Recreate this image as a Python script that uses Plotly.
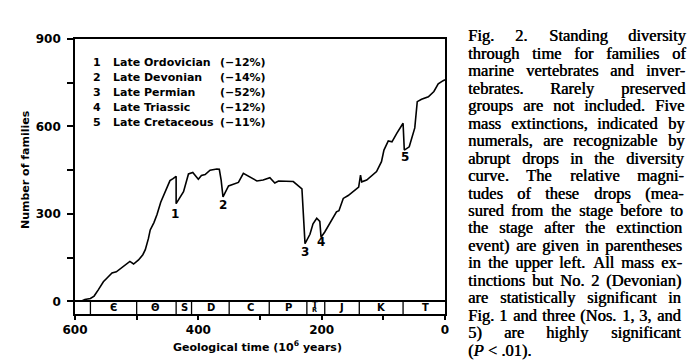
import plotly.graph_objects as go

# ---- data ----
age = [590, 584, 575, 569, 562, 554, 548, 540, 533, 526, 518, 511, 505, 497, 490, 486,
       481, 478, 472, 467, 461, 455, 450, 446, 441, 436, 436, 430, 424, 416, 409, 400,
       395, 389, 381, 370, 366, 363, 360, 351, 341, 335, 327, 316, 305, 295, 284, 276,
       270, 246, 232, 227, 219, 214, 208, 203, 201, 195, 181, 176, 172, 165, 157, 140,
       137, 135, 127, 111, 103, 99, 92, 86, 78, 68, 66, 58, 49, 45, 38, 27, 18, 11, 3, 0]
families = [0, 6, 10, 18, 40, 67, 80, 97, 101, 112, 125, 137, 128, 142, 160, 177,
            215, 245, 270, 298, 340, 368, 392, 414, 421, 429, 335, 356, 376, 437, 442, 419,
            432, 435, 450, 454, 453, 416, 358, 396, 402, 408, 439, 425, 413, 416, 424, 406,
            413, 411, 386, 198, 230, 266, 285, 274, 220, 238, 290, 307, 311, 353, 363, 392,
            433, 410, 416, 445, 479, 519, 550, 547, 577, 611, 519, 530, 595, 685, 693, 702, 720, 746, 757, 760]

event_labels = ["1", "2", "3", "4", "5"]
event_age = [438, 360, 227, 201, 65]
event_val = [301, 332, 169, 204, 494]

legend_num = ["1", "2", "3", "4", "5"]
legend_name = ["Late Ordovician", "Late Devonian", "Late Permian", "Late Triassic", "Late Cretaceous"]
legend_pct = ["(\u221212%)", "(\u221214%)", "(\u221252%)", "(\u221212%)", "(\u221211%)"]

period_bounds = [575, 500, 436, 411, 350, 285, 224, 195, 139, 68]
period_names = ["\u0404", "\u0398", "S", "D", "C", "P", "", "J", "K", "T"]
period_mid = [538, 469, 423, 379, 316, 254, 211, 168, 103, 32]

xtick_vals = [600, 400, 200, 0]
xtick_text = ["600", "400", "200", "0"]
xminor_vals = [500, 300, 100]
ytick_vals = [0, 300, 600, 900]
ytick_text = ["0", "300", "600", "900"]
yminor_vals = [150, 450, 750]

caption_lines = [
    "Fig. 2. Standing diversity",
    "through time for families of",
    "marine vertebrates and inver-",
    "tebrates. Rarely preserved",
    "groups are not included. Five",
    "mass extinctions, indicated by",
    "numerals, are recognizable by",
    "abrupt drops in the diversity",
    "curve. The relative magni-",
    "tudes of these drops (mea-",
    "sured from the stage before to",
    "the stage after the extinction",
    "event) are given in parentheses",
    "in the upper left. All mass ex-",
    "tinctions but No. 2 (Devonian)",
    "are statistically significant in",
    "Fig. 1 and three (Nos. 1, 3, and",
    "5) are highly significant",
]
caption_last = "(<i>P</i> < .01)."

# ---- layout geometry ----
W, H = 693, 362
ML, MR, MT, MB = 75, 248, 39, 48
PW, PH = W - ML - MR, H - MT - MB
YMIN = -43.5


def xp(px):
    return (px - ML) / PW


def yp(py):
    return (H - MB - py) / PH


SANS = "DejaVu Sans"
SERIF = "Liberation Serif"
CAPSHADOW = "0.5px 0 0 black"

fig = go.Figure()
fig.add_trace(go.Scatter(x=age, y=families, mode="lines",
                         line=dict(color="black", width=1.6), hoverinfo="skip",
                         showlegend=False))

ann = []
# event numerals
for lab, a, v in zip(event_labels, event_age, event_val):
    ann.append(dict(x=a, y=v, xref="x", yref="y", text=lab, showarrow=False,
                    xanchor="center", yanchor="middle",
                    font=dict(family=SANS, size=12, color="black", weight="bold")))

# legend block
for i, (n, name, pct) in enumerate(zip(legend_num, legend_name, legend_pct)):
    yy = yp(62.5 + 15.1 * i)
    ann.append(dict(x=xp(97), y=yy, xref="paper", yref="paper", text=n, showarrow=False,
                    xanchor="center", yanchor="middle",
                    font=dict(family=SANS, size=11, color="black", weight="bold")))
    ann.append(dict(x=xp(112), y=yy, xref="paper", yref="paper", text=name, showarrow=False,
                    xanchor="left", yanchor="middle", borderpad=0,
                    font=dict(family=SANS, size=11, color="black", weight="bold")))
    ann.append(dict(x=xp(219), y=yy, xref="paper", yref="paper", text=pct, showarrow=False,
                    xanchor="left", yanchor="middle", borderpad=0,
                    font=dict(family=SANS, size=11, color="black", weight="bold")))

# period band
shapes = []
for b in period_bounds:
    shapes.append(dict(type="line", xref="x", yref="y", x0=b, x1=b, y0=0, y1=YMIN,
                       line=dict(color="black", width=1.3)))
for name, m in zip(period_names, period_mid):
    if name:
        ann.append(dict(x=m, y=-21, xref="x", yref="y", text=name, showarrow=False,
                        xanchor="center", yanchor="middle", borderpad=0,
                        font=dict(family=SANS, size=10, color="black", weight="bold")))
# Triassic symbol: T over a small R
ann.append(dict(x=period_mid[6], y=-12, xref="x", yref="y", text="T", showarrow=False,
                xanchor="center", yanchor="middle", borderpad=0,
                font=dict(family=SANS, size=8.5, color="black", weight="bold")))
ann.append(dict(x=period_mid[6], y=-31, xref="x", yref="y", text="R", showarrow=False,
                xanchor="center", yanchor="middle", borderpad=0,
                font=dict(family=SANS, size=6.5, color="black", weight="bold")))

# axis titles
ann.append(dict(x=xp(257), y=yp(346.5), xref="paper", yref="paper",
                xanchor="center", yanchor="middle",
                text="Geological time (10<sup>6</sup> years)", showarrow=False,
                font=dict(family=SANS, size=11, color="black", weight="bold")))
ann.append(dict(x=xp(25), y=yp(170), xref="paper", yref="paper", textangle=-90,
                xanchor="center", yanchor="middle",
                text="Number of families", showarrow=False,
                font=dict(family=SANS, size=11, color="black", weight="bold")))

# caption, justified word by word
TW = {' ': 250, '!': 333, '(': 333, ')': 333, ',': 250, '-': 333, '.': 250, '<': 564,
      '0': 500, '1': 500, '2': 500, '3': 500, '4': 500, '5': 500, '6': 500, '7': 500,
      '8': 500, '9': 500, ':': 278, ';': 278,
      'A': 722, 'B': 667, 'C': 667, 'D': 722, 'E': 611, 'F': 556, 'G': 722, 'H': 722,
      'I': 333, 'J': 389, 'K': 722, 'L': 611, 'M': 889, 'N': 722, 'O': 722, 'P': 556,
      'Q': 722, 'R': 667, 'S': 556, 'T': 611, 'U': 722, 'V': 722, 'W': 944, 'X': 722,
      'Y': 722, 'Z': 611,
      'a': 444, 'b': 500, 'c': 444, 'd': 500, 'e': 444, 'f': 333, 'g': 500, 'h': 500,
      'i': 278, 'j': 278, 'k': 500, 'l': 278, 'm': 778, 'n': 500, 'o': 500, 'p': 500,
      'q': 500, 'r': 333, 's': 389, 't': 278, 'u': 500, 'v': 500, 'w': 722, 'x': 500,
      'y': 500, 'z': 444}
CFS = 16.5


def text_w(s):
    return sum(TW.get(c, 500) for c in s) * CFS / 1000.0


LEFT = 468.0
for i, line in enumerate(caption_lines):
    right = 686.0 - 6.0 * i / 18.0
    cy = 36.0 + 17.45 * i
    words = line.split(" ")
    widths = [text_w(w) for w in words]
    gap = (right - LEFT - sum(widths)) / (len(words) - 1)
    x = LEFT
    for w, wd in zip(words, widths):
        ann.append(dict(x=xp(x), y=yp(cy), xref="paper", yref="paper", text=w,
                        showarrow=False, xanchor="left", yanchor="middle", borderpad=0,
                        borderwidth=0,
                        font=dict(family=SERIF, size=CFS, color="black", shadow=CAPSHADOW)))
        x += wd + gap
ann.append(dict(x=xp(LEFT), y=yp(36.0 + 17.45 * 18), xref="paper", yref="paper",
                text=caption_last, showarrow=False, xanchor="left", yanchor="middle",
                borderpad=0, borderwidth=0,
                font=dict(family=SERIF, size=CFS, color="black", shadow=CAPSHADOW)))

fig.update_layout(
    width=W, height=H,
    margin=dict(l=ML, r=MR, t=MT, b=MB, pad=0),
    paper_bgcolor="white", plot_bgcolor="white",
    showlegend=False,
    annotations=ann,
    shapes=shapes,
    xaxis=dict(range=[600, 0], tickmode="array", tickvals=xtick_vals, ticktext=xtick_text,
               ticks="outside", ticklen=4, tickwidth=1.5, tickcolor="black",
               minor=dict(tickmode="array", tickvals=xminor_vals, ticks="outside",
                          ticklen=4, tickwidth=1.5, tickcolor="black", showgrid=False),
               showline=True, linecolor="black", linewidth=1.6, mirror=True,
               showgrid=False, zeroline=False,
               tickfont=dict(family=SANS, size=12, color="black", weight="bold")),
    yaxis=dict(range=[YMIN, 900], tickmode="array", tickvals=ytick_vals, ticktext=ytick_text,
               ticks="outside", ticklen=6, tickwidth=1.5, tickcolor="black",
               minor=dict(tickmode="array", tickvals=yminor_vals, ticks="outside",
                          ticklen=6, tickwidth=1.5, tickcolor="black", showgrid=False),
               showline=True, linecolor="black", linewidth=1.6, mirror=True,
               showgrid=False, zeroline=True, zerolinecolor="black", zerolinewidth=1.5,
               ticklabelstandoff=4,
               tickfont=dict(family=SANS, size=12, color="black", weight="bold")),
)

fig.write_html("out.html", config={"displayModeBar": False},
               post_script="document.body.style.margin='0';document.body.style.overflow='hidden';")
